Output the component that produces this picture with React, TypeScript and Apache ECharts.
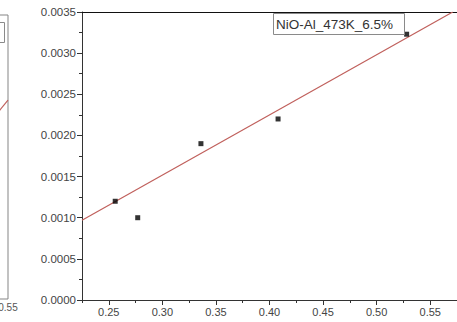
import React, { useEffect, useRef } from "react";
import * as echarts from "echarts";

// Main chart data (NiO-Al_473K_6.5%)
const seriesName = "NiO-Al_473K_6.5%";
const pointX = [0.256, 0.277, 0.336, 0.408, 0.528];
const pointY = [0.0012, 0.001, 0.0019, 0.0022, 0.00323];
const fitX = [0.225, 0.571];
const fitY = [0.00097, 0.0035];

// Partially visible neighbouring chart (left edge)
const leftFitX = [0.45, 0.55];
const leftFitY = [0.00118, 0.00245];
const leftVisibleTick = "0.55";

const FONT = '"Liberation Sans", Arial, sans-serif';

export default function App() {
  const ref = useRef<HTMLDivElement>(null);

  useEffect(() => {
    if (!ref.current) return;
    document.body.style.margin = "0";
    const chart = echarts.init(ref.current, undefined, { renderer: "svg" });

    const points = pointX.map((x, i) => [x, pointY[i]]);
    const fit = fitX.map((x, i) => [x, fitY[i]]);
    const leftFit = leftFitX.map((x, i) => [x, leftFitY[i]]);

    const option: any = {
      animation: false,
      backgroundColor: "#ffffff",
      grid: [
        { left: 82, right: 0, top: 12, bottom: 22, outerBoundsMode: "none", containLabel: false },
        {
          left: -292,
          width: 300,
          top: 15,
          bottom: 23,
          show: true,
          borderColor: "#858585",
          borderWidth: 1,
          backgroundColor: "transparent",
          outerBoundsMode: "none",
          containLabel: false,
        },
      ],
      xAxis: [
        {
          gridIndex: 0,
          type: "value",
          position: "bottom",
          min: 0.225,
          max: 0.575,
          splitNumber: 7,
          axisLine: { show: true, onZero: false, lineStyle: { color: "#333", width: 1 } },
          axisTick: { show: true, length: 5, lineStyle: { color: "#333" } },
          axisLabel: {
            show: true,
            showMinLabel: false,
            showMaxLabel: false,
            formatter: (v: number) => v.toFixed(2),
            color: "#444",
            fontSize: 11,
            fontFamily: FONT,
            margin: 6,
          },
          splitLine: { show: false },
        },
        {
          // minor ticks (midpoints)
          gridIndex: 0,
          type: "value",
          position: "bottom",
          min: 0.225,
          max: 0.575,
          interval: 0.05,
          axisLine: { show: false, onZero: false },
          axisTick: { show: true, length: 3, lineStyle: { color: "#333" } },
          axisLabel: { show: false },
          splitLine: { show: false },
        },
        {
          gridIndex: 0,
          type: "value",
          position: "top",
          min: 0.225,
          max: 0.575,
          axisLine: { show: true, onZero: false, lineStyle: { color: "#111", width: 1 } },
          axisTick: { show: false },
          axisLabel: { show: false },
          splitLine: { show: false },
        },
        {
          gridIndex: 1,
          type: "value",
          position: "bottom",
          min: 0.2,
          max: 0.55,
          interval: 0.05,
          axisLine: { show: false, onZero: false },
          axisTick: { show: false },
          axisLabel: {
            show: true,
            showMinLabel: false,
            formatter: (v: number) => (v.toFixed(2) === leftVisibleTick ? leftVisibleTick : ""),
            color: "#555",
            fontSize: 10,
            fontFamily: FONT,
            margin: 3,
          },
          splitLine: { show: false },
        },
      ],
      yAxis: [
        {
          gridIndex: 0,
          type: "value",
          min: 0,
          max: 0.0035,
          interval: 0.0005,
          axisLine: { show: true, onZero: false, lineStyle: { color: "#333", width: 1 } },
          axisTick: { show: true, length: 5, lineStyle: { color: "#333" } },
          minorTick: { show: true, splitNumber: 2, length: 3, lineStyle: { color: "#333" } },
          axisLabel: {
            formatter: (v: number) => v.toFixed(4),
            color: "#444",
            fontSize: 11.5,
            fontFamily: FONT,
            margin: 6,
          },
          splitLine: { show: false },
          minorSplitLine: { show: false },
        },
        {
          gridIndex: 1,
          type: "value",
          min: 0,
          max: 0.0035,
          axisLine: { show: false },
          axisTick: { show: false },
          axisLabel: { show: false },
          splitLine: { show: false },
        },
      ],
      series: [
        {
          type: "line",
          name: "fit",
          xAxisIndex: 0,
          yAxisIndex: 0,
          data: fit,
          symbol: "none",
          clip: true,
          lineStyle: { color: "#c0605c", width: 1.2 },
          z: 2,
        },
        {
          type: "scatter",
          name: seriesName,
          xAxisIndex: 0,
          yAxisIndex: 0,
          data: points,
          symbol: "rect",
          symbolSize: 5,
          itemStyle: { color: "#000" },
          z: 3,
        },
        {
          type: "line",
          name: "leftFit",
          xAxisIndex: 3,
          yAxisIndex: 1,
          data: leftFit,
          symbol: "none",
          clip: true,
          lineStyle: { color: "#c0605c", width: 1.2 },
          z: 2,
        },
      ],
      graphic: [
        {
          type: "rect",
          shape: { x: 273.5, y: 13.5, width: 131, height: 21 },
          style: { fill: "#fff", stroke: "#8a8a8a", lineWidth: 1 },
          z: 10,
        },
        {
          type: "text",
          x: 276,
          y: 24.5,
          style: {
            text: seriesName,
            font: `13.5px ${FONT}`,
            fill: "#333",
            verticalAlign: "middle",
          },
          z: 11,
        },
        {
          type: "rect",
          shape: { x: -60.5, y: 22.5, width: 65, height: 20 },
          style: { fill: "#fff", stroke: "#8a8a8a", lineWidth: 1 },
          z: 10,
        },
      ],
    };

    chart.setOption(option);
    return () => chart.dispose();
  }, []);

  return (
    <div
      ref={ref}
      style={{ position: "absolute", left: 0, top: 0, width: 457, height: 322 }}
    />
  );
}
